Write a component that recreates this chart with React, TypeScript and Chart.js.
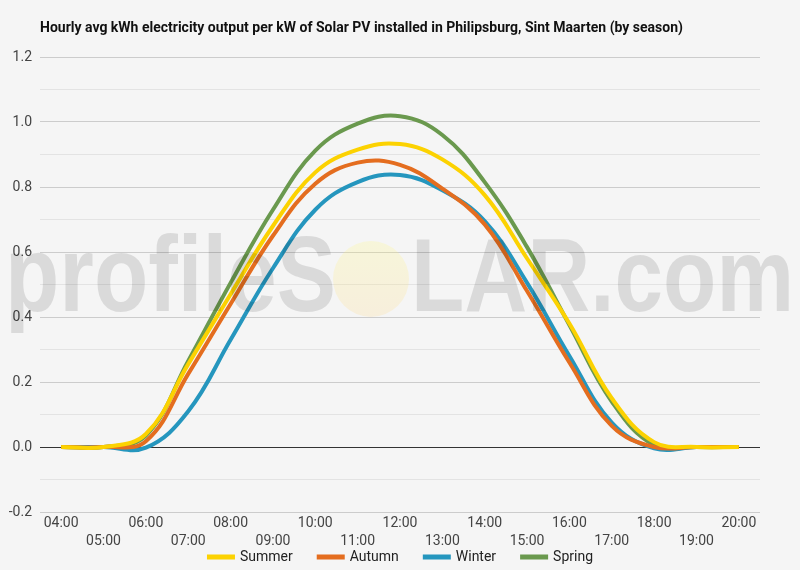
import React, { useEffect, useRef } from "react";
import Chart from "chart.js/auto";

const TITLE =
  "Hourly avg kWh electricity output per kW of Solar PV installed in Philipsburg, Sint Maarten (by season)";

const hours = [
  "04:00", "05:00", "06:00", "07:00", "08:00", "09:00", "10:00", "11:00", "12:00",
  "13:00", "14:00", "15:00", "16:00", "17:00", "18:00", "19:00", "20:00",
];

const summer = [0, 0, 0.04, 0.255, 0.47, 0.68, 0.845, 0.915, 0.932, 0.885, 0.775, 0.58, 0.38, 0.15, 0.015, 0, 0];
const autumn = [0, 0, 0.018, 0.225, 0.44, 0.65, 0.81, 0.875, 0.868, 0.795, 0.685, 0.48, 0.26, 0.065, 0, 0, 0];
const winter = [0, 0, -0.002, 0.11, 0.33, 0.55, 0.73, 0.815, 0.837, 0.79, 0.695, 0.505, 0.28, 0.075, -0.004, 0, 0];
const spring = [0, 0, 0.035, 0.265, 0.505, 0.73, 0.912, 0.995, 1.018, 0.96, 0.815, 0.615, 0.375, 0.14, 0.006, 0, 0];

const seriesNames = ["Summer", "Autumn", "Winter", "Spring"];
const seriesColors = ["#fcd201", "#e46d1f", "#2596be", "#6a994e"];

const yMin = -0.2;
const yMax = 1.2;
const yStep = 0.1;

// even hours on the first row, odd hours on the second row
const xLabels = hours.map((h, i) => (i % 2 === 0 ? [h] : ["", h]));

const decorPlugin = {
  id: "decor",
  beforeDraw(chart: any) {
    const { ctx, width, height } = chart;
    ctx.save();
    ctx.fillStyle = "#f5f5f5";
    ctx.fillRect(0, 0, width, height);
    ctx.fillStyle = "#111";
    ctx.font = "bold 14px Roboto";
    ctx.textBaseline = "middle";
    ctx.textAlign = "left";
    ctx.fillText(TITLE, 40, 28);
    ctx.restore();
  },
  afterDatasetsDraw(chart: any) {
    // profileSOLAR.com watermark
    const { ctx } = chart;
    ctx.save();
    ctx.textBaseline = "alphabetic";
    ctx.textAlign = "left";
    const fit = (txt: string, x0: number, x1: number) => {
      ctx.font = "bold 100px 'Liberation Sans'";
      const w = ctx.measureText(txt).width;
      const size = (100 * (x1 - x0)) / w;
      ctx.save();
      ctx.translate(x0, 311);
      ctx.scale(1, 1.2);
      ctx.font = `bold ${size}px 'Liberation Sans'`;
      ctx.fillText(txt, 0, 0);
      ctx.restore();
    };
    ctx.fillStyle = "rgba(0,0,0,0.11)";
    fit("profileS", 5, 336);
    fit("LAR.com", 411, 794);
    const g = ctx.createLinearGradient(0, 241, 0, 317);
    g.addColorStop(0, "rgba(255,248,120,0.22)");
    g.addColorStop(1, "rgba(255,215,130,0.22)");
    ctx.fillStyle = g;
    ctx.beginPath();
    ctx.arc(371, 279, 38, 0, Math.PI * 2);
    ctx.fill();
    ctx.restore();
  },
  afterDraw(chart: any) {
    // legend row
    const { ctx } = chart;
    const datasets = chart.data.datasets;
    ctx.save();
    ctx.font = "14px Roboto";
    ctx.textBaseline = "middle";
    ctx.textAlign = "left";
    const boxW = 28;
    const gapBox = 5;
    const gapItem = 24;
    const widths = datasets.map(
      (d: any) => boxW + gapBox + ctx.measureText(d.label).width
    );
    const total =
      widths.reduce((a: number, b: number) => a + b, 0) + gapItem * (datasets.length - 1);
    let x = (chart.width - total) / 2;
    const y = 557;
    datasets.forEach((d: any, i: number) => {
      ctx.fillStyle = d.borderColor;
      ctx.fillRect(x, y - 2.5, boxW, 5);
      ctx.fillStyle = "#222";
      ctx.fillText(d.label, x + boxW + gapBox, y);
      x += widths[i] + gapItem;
    });
    ctx.restore();
  },
};

const SolarChart: React.FC = () => {
  const chartRef = useRef<HTMLCanvasElement | null>(null);
  const chartInstance = useRef<Chart | null>(null);

  useEffect(() => {
    if (!chartRef.current) return;
    if (chartInstance.current) chartInstance.current.destroy();
    const ctx = chartRef.current.getContext("2d");
    if (!ctx) return;

    Chart.defaults.font.family = "Roboto";
    const values = [summer, autumn, winter, spring];

    chartInstance.current = new Chart(ctx, {
      type: "line",
      data: {
        labels: xLabels as any,
        datasets: values.map((v, i) => ({
          label: seriesNames[i],
          data: v,
          borderColor: seriesColors[i],
          backgroundColor: seriesColors[i],
          borderWidth: 4,
          pointRadius: 0,
          tension: 0.4,
          fill: false,
        })),
      },
      options: {
        animation: false,
        responsive: true,
        maintainAspectRatio: false,
        layout: { padding: { top: 57, right: 40, left: 0, bottom: 0 } },
        plugins: {
          legend: { display: false },
          title: { display: false },
          tooltip: { enabled: false },
        },
        scales: {
          x: {
            offset: true,
            grid: { display: false, drawTicks: false },
            border: { display: false },
            ticks: {
              autoSkip: false,
              maxRotation: 0,
              padding: 3,
              color: "#444",
              font: { size: 14, lineHeight: 1.25 },
            },
            afterFit: (scale: any) => {
              scale.height = 58;
            },
          },
          y: {
            min: yMin,
            max: yMax,
            border: { display: false },
            grid: {
              drawTicks: false,
              lineWidth: 1,
              color: (c: any) => {
                const v = Math.round((c.tick?.value ?? 0) * 10);
                if (v === 0) return "#333333";
                return v % 2 === 0 ? "#cccccc" : "#e3e3e3";
              },
            },
            ticks: {
              stepSize: yStep,
              padding: 8,
              color: "#444",
              font: { size: 14 },
              callback: (value: any) => {
                const v = Math.round(Number(value) * 10);
                return v % 2 === 0 ? (v / 10).toFixed(1) : "";
              },
            },
            afterFit: (scale: any) => {
              scale.width = 40;
            },
          },
        },
      },
      plugins: [decorPlugin],
    });

    return () => {
      if (chartInstance.current) {
        chartInstance.current.destroy();
        chartInstance.current = null;
      }
    };
  }, []);

  return (
    <div style={{ position: "fixed", left: 0, top: 0, width: 800, height: 570 }}>
      <canvas ref={chartRef}></canvas>
    </div>
  );
};

export default function App() {
  return <SolarChart />;
}
